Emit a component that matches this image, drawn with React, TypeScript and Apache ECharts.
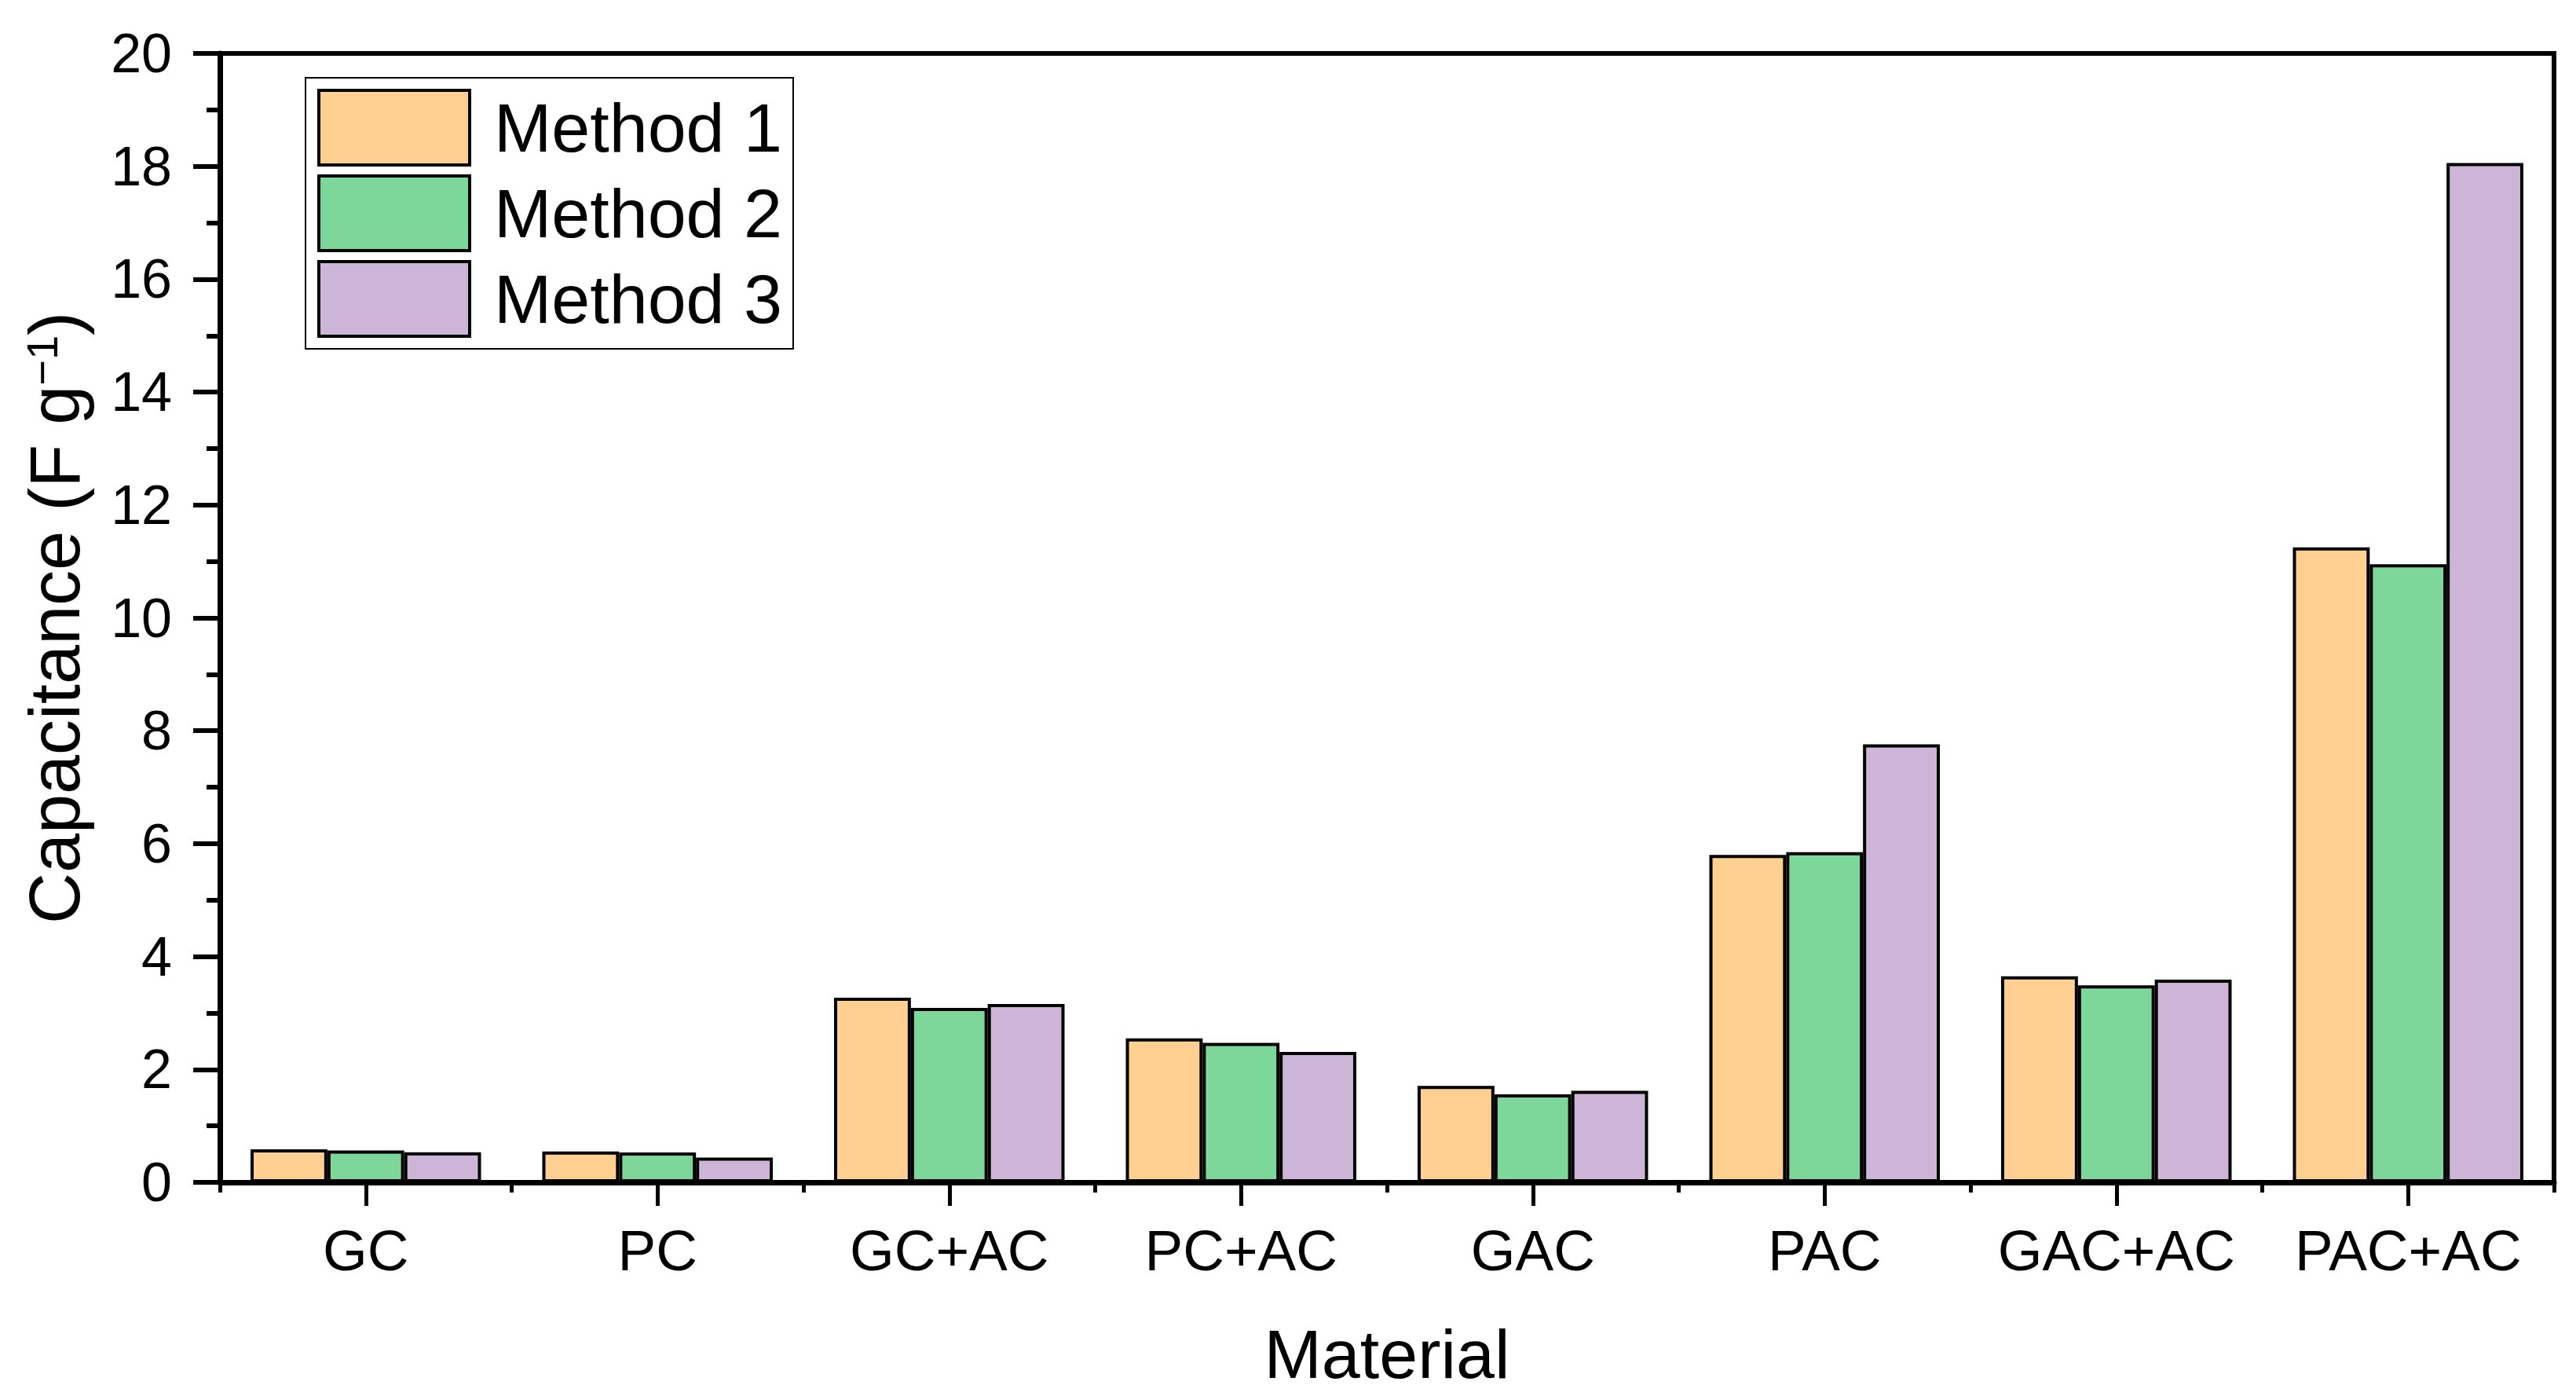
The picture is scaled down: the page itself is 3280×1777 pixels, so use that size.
import React, { useEffect, useRef } from "react";
import * as echarts from "echarts";

const categories = ["GC", "PC", "GC+AC", "PC+AC", "GAC", "PAC", "GAC+AC", "PAC+AC"];
const method1 = [0.585, 0.548, 3.27, 2.55, 1.71, 5.8, 3.65, 11.25];
const method2 = [0.562, 0.529, 3.09, 2.47, 1.56, 5.85, 3.49, 10.95];
const method3 = [0.534, 0.437, 3.16, 2.31, 1.62, 7.76, 3.59, 18.06];
const seriesNames = ["Method 1", "Method 2", "Method 3"];
const colors = ["#FFD092", "#7ED79A", "#CDB5D8"];

const FONT = "'Liberation Sans', Arial, sans-serif";

export default function App() {
  const ref = useRef<HTMLDivElement>(null);
  useEffect(() => {
    if (!ref.current) return;
    const chart = echarts.init(ref.current, null, { renderer: "svg" });
    const data = [method1, method2, method3];
    chart.setOption({
      animation: false,
      backgroundColor: "#fff",
      grid: {
        left: 280,
        right: 28,
        top: 68,
        bottom: 272,
        show: true,
        borderColor: "#000",
        borderWidth: 6,
        containLabel: false,
      },
      legend: {
        orient: "vertical",
        left: 389,
        top: 99,
        padding: [14, 14, 14, 15],
        borderColor: "#000",
        borderWidth: 2,
        backgroundColor: "#fff",
        itemWidth: 192,
        itemHeight: 95,
        itemGap: 10,
        icon: "rect",
        itemStyle: { borderColor: "#000", borderWidth: 4 },
        textStyle: {
          fontSize: 88,
          lineHeight: 90,
          fontFamily: FONT,
          color: "#000",
          padding: [0, 0, 0, 26],
        },
        data: seriesNames,
      },
      xAxis: [
        {
          type: "category",
          data: categories,
          position: "bottom",
          name: "Material",
          nameLocation: "middle",
          nameGap: 174,
          nameTextStyle: { fontSize: 88, fontFamily: FONT, color: "#000" },
          axisLine: { show: true, lineStyle: { color: "#000", width: 7 } },
          axisTick: {
            show: true,
            alignWithLabel: true,
            length: 30,
            lineStyle: { color: "#000", width: 5 },
          },
          axisLabel: {
            fontSize: 73,
            fontFamily: FONT,
            color: "#000",
            margin: 50,
            lineHeight: 73,
            interval: 0,
          },
          splitLine: { show: false },
        },
        {
          type: "category",
          data: categories,
          position: "bottom",
          axisLine: { show: false },
          axisTick: { show: true, length: 13, lineStyle: { color: "#000", width: 5 } },
          axisLabel: { show: false },
          splitLine: { show: false },
        },
      ],
      yAxis: {
        type: "value",
        min: 0,
        max: 20,
        interval: 2,
        name: "{a|Capacitance (F g}{s|−1}{a|)}",
        nameLocation: "middle",
        nameGap: 165,
        nameTextStyle: {
          rich: {
            a: { fontSize: 90, fontFamily: FONT, color: "#000", lineHeight: 90 },
            s: { fontSize: 56, fontFamily: FONT, color: "#000", verticalAlign: "top", lineHeight: 56 },
          },
        },
        axisLine: { show: true, lineStyle: { color: "#000", width: 7 } },
        axisTick: { show: true, length: 34, lineStyle: { color: "#000", width: 6 } },
        minorTick: { show: true, splitNumber: 2, length: 17, lineStyle: { color: "#000", width: 6 } },
        axisLabel: { fontSize: 70, fontFamily: FONT, color: "#000", margin: 61 },
        splitLine: { show: false },
        minorSplitLine: { show: false },
      },
      series: seriesNames.map((name, i) => ({
        name,
        type: "bar",
        xAxisIndex: 0,
        data: data[i],
        barGap: "0%",
        barCategoryGap: "21%",
        itemStyle: { color: colors[i], borderColor: "#000", borderWidth: 4 },
      })),
    });
    return () => chart.dispose();
  }, []);
  return (
    <div
      ref={ref}
      style={{ position: "absolute", left: 0, top: 0, width: 3280, height: 1777, background: "#fff" }}
    />
  );
}
